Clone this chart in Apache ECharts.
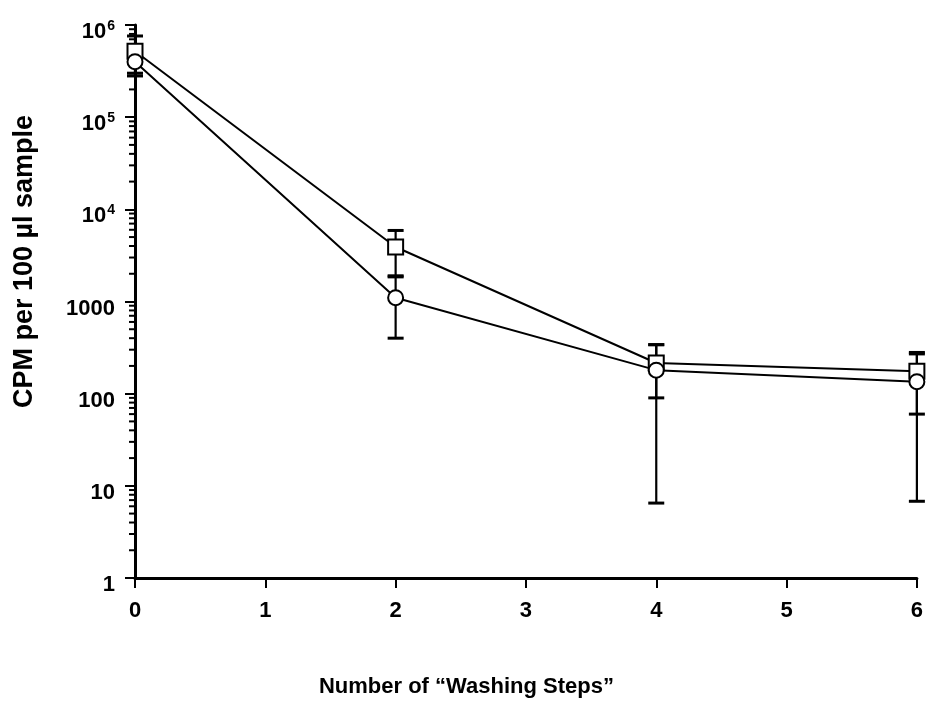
<!DOCTYPE html>
<html><head><meta charset="utf-8">
<script src="https://cdn.jsdelivr.net/npm/echarts@6/dist/echarts.min.js"></script>
<style>html,body{margin:0;padding:0;background:#fff}#c{width:926px;height:703px}</style>
</head><body><div id="c"></div>
<script>
var washSteps = [0, 2, 4, 6];
var squareMean = [520000, 3900, 215, 175];
var squareHigh = [760000, 5900, 340, 280];
var squareLow  = [280000, 1900, 90, 60];
var circleMean = [400000, 1100, 180, 135];
var circleHigh = [500000, 1850, 340, 270];
var circleLow  = [300000, 400, 6.5, 6.8];
var minorTickValues = [];
[1, 10, 100, 1000, 10000, 100000].forEach(function (d) {
  for (var k = 2; k <= 9; k++) minorTickValues.push(d * k);
});
var FONT = 'Liberation Sans';

function pairs(xs, ys) { return xs.map(function (x, i) { return [x, ys[i]]; }); }
function errData(xs, hi, lo) { return xs.map(function (x, i) { return [x, lo[i], hi[i]]; }); }

function errRender(params, api) {
  var x = api.value(0);
  var lo = api.coord([x, api.value(1)]);
  var hi = api.coord([x, api.value(2)]);
  var w = 8;
  return { type: 'group', children: [
    { type: 'line', shape: { x1: lo[0], y1: lo[1], x2: hi[0], y2: hi[1] }, style: { stroke: '#000', lineWidth: 2.2 } },
    { type: 'line', shape: { x1: lo[0] - w, y1: lo[1], x2: lo[0] + w, y2: lo[1] }, style: { stroke: '#000', lineWidth: 3 } },
    { type: 'line', shape: { x1: hi[0] - w, y1: hi[1], x2: hi[0] + w, y2: hi[1] }, style: { stroke: '#000', lineWidth: 3 } }
  ]};
}
function minorRender(params, api) {
  var p = api.coord([0, api.value(0)]);
  return { type: 'line', shape: { x1: p[0] - 6, y1: p[1], x2: p[0], y2: p[1] }, style: { stroke: '#000', lineWidth: 2 } };
}

var chart = echarts.init(document.getElementById('c'));
chart.setOption({
  animation: false,
  backgroundColor: '#fff',
  grid: { left: 135, right: 9, top: 25, bottom: 123, containLabel: false },
  xAxis: {
    type: 'value', min: 0, max: 6, interval: 1,
    name: 'Number of \u201cWashing Steps\u201d', nameLocation: 'middle', nameGap: 98,
    nameTextStyle: { fontFamily: FONT, fontWeight: 'bold', fontSize: 22, color: '#000', padding: [0, 119, 0, 0] },
    axisLine: { lineStyle: { color: '#000', width: 3 } },
    axisTick: { length: 10, lineStyle: { color: '#000', width: 2 } },
    axisLabel: { margin: 22, fontFamily: FONT, fontWeight: 'bold', fontSize: 22, color: '#000' },
    splitLine: { show: false }
  },
  yAxis: {
    type: 'log', logBase: 10, min: 1, max: 1000000,
    name: 'CPM per 100 \u00b5l sample', nameLocation: 'middle', nameGap: 97,
    nameTextStyle: { fontFamily: FONT, fontWeight: 'bold', fontSize: 27, color: '#000', padding: [0, 0, 0, 80] },
    axisLine: { show: true, lineStyle: { color: '#000', width: 3 } },
    axisTick: { length: 10, lineStyle: { color: '#000', width: 2 } },
    axisLabel: {
      margin: 20, fontFamily: FONT, fontWeight: 'bold', fontSize: 22, color: '#000',
      padding: [14, 0, 0, 0],
      formatter: function (v) {
        var e = Math.round(Math.log10(v));
        if (e >= 4) return '10{sup|' + e + '}';
        return String(Math.round(v));
      },
      rich: { sup: { fontFamily: FONT, fontWeight: 'bold', fontSize: 14, color: '#000', verticalAlign: 'bottom', padding: [0, 0, 12, 1] } }
    },
    splitLine: { show: false }
  },
  series: [
    { type: 'custom', renderItem: minorRender, data: minorTickValues.map(function (v) { return [v]; }), encode: { y: 0 }, silent: true, z: 1, clip: false },
    { type: 'custom', renderItem: errRender, data: errData(washSteps, squareHigh, squareLow), encode: { x: 0, y: [1, 2] }, z: 2 },
    { type: 'custom', renderItem: errRender, data: errData(washSteps, circleHigh, circleLow), encode: { x: 0, y: [1, 2] }, z: 2 },
    { type: 'line', data: pairs(washSteps, squareMean), symbol: 'rect', symbolSize: 15, showAllSymbol: true,
      lineStyle: { color: '#000', width: 2 }, itemStyle: { color: '#fff', borderColor: '#000', borderWidth: 2 }, z: 3 },
    { type: 'line', data: pairs(washSteps, circleMean), symbol: 'circle', symbolSize: 15, showAllSymbol: true,
      lineStyle: { color: '#000', width: 2 }, itemStyle: { color: '#fff', borderColor: '#000', borderWidth: 2 }, z: 3 }
  ]
});
</script></body></html>
